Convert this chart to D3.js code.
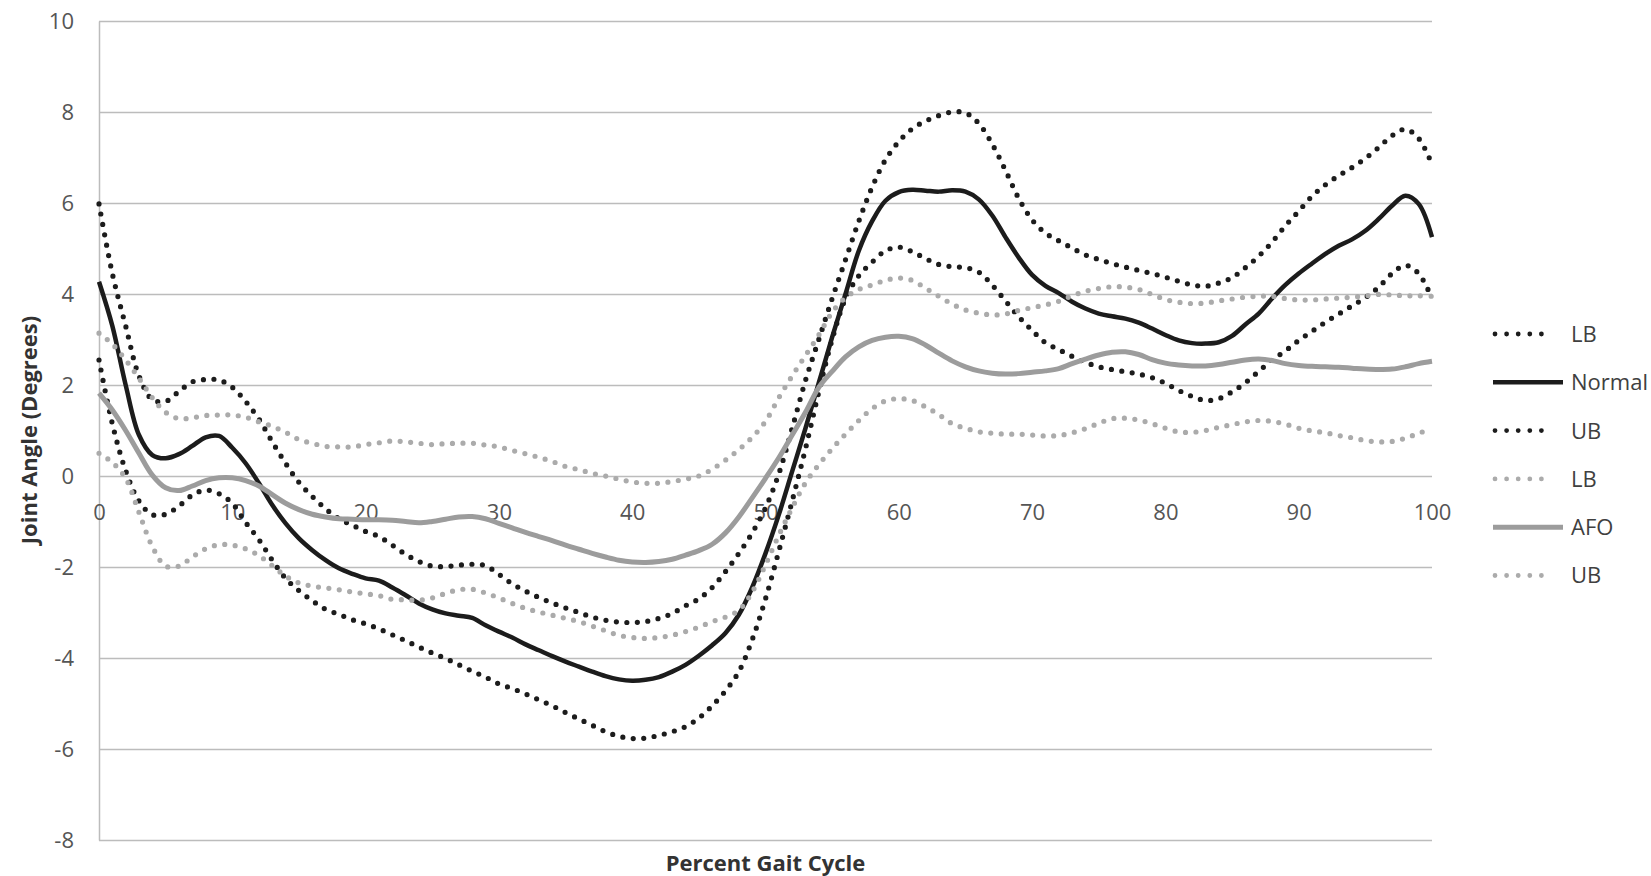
<!DOCTYPE html>
<html>
<head>
<meta charset="utf-8">
<script src="https://cdn.jsdelivr.net/npm/d3@7"></script>
<style>
	body {
		margin: 0;
		background: #fff;
		font-family: 'Open Sans', 'DejaVu Sans', sans-serif;
	}
	.grid line,
	.y.axis .domain {
		stroke: #bcbcbc;
		stroke-width: 1.5;
	}
	.axis text {
		fill: #555;
		font-size: 22px;
		font-family: 'Open Sans', sans-serif;
	}
	.axis-title {
		fill: #333;
		font-size: 22px;
		font-weight: bold;
	}
	.line {
		fill: none;
	}
	.normal { stroke: #1c1c1c; stroke-width: 4.5; }
	.afo { stroke: #9c9c9c; stroke-width: 5; }
	.band-dark,
	.band-light {
		stroke-width: 5.2;
		stroke-linecap: round;
		stroke-dasharray: 0 10.5;
	}
	.band-dark { stroke: #1c1c1c; }
	.band-light { stroke: #ababab; }
	.legend .band-dark,
	.legend .band-light { stroke-width: 4.8; stroke-dasharray: 0 11.6; }
	.legend text {
		fill: #404040;
		font-size: 22px;
	}
</style>
</head>
<body>
<div id="graphic"></div>
<script>
// Percent gait cycle (category axis)
var GAIT_PCT = [
	0, 1, 2, 3, 4, 5, 6, 7, 8, 9, 10, 11, 12, 13, 14, 15, 16, 17, 18, 19, 20,
	21, 22, 23, 24, 25, 26, 27, 28, 29, 30, 31, 32, 33, 34, 35, 36, 37, 38, 39, 40,
	41, 42, 43, 44, 45, 46, 47, 48, 49, 50, 51, 52, 53, 54, 55, 56, 57, 58, 59, 60,
	61, 62, 63, 64, 65, 66, 67, 68, 69, 70, 71, 72, 73, 74, 75, 76, 77, 78, 79, 80,
	81, 82, 83, 84, 85, 86, 87, 88, 89, 90, 91, 92, 93, 94, 95, 96, 97, 98, 99, 100
];

// Joint angle (degrees)
var LB_NORMAL = [
	2.55, 1.15, 0.12, -0.55, -0.85, -0.84, -0.66, -0.42, -0.31, -0.39, -0.6,
	-1.02, -1.4, -1.85, -2.25, -2.52, -2.74, -2.93, -3.04, -3.16, -3.25,
	-3.36, -3.49, -3.62, -3.76, -3.89, -4.01, -4.15, -4.29, -4.42, -4.57,
	-4.67, -4.79, -4.92, -5.05, -5.2, -5.34, -5.48, -5.62, -5.72, -5.77,
	-5.76, -5.7, -5.62, -5.51, -5.32, -5.05, -4.72, -4.3, -3.6, -2.7,
	-1.65, -0.55, 0.6, 1.85, 3.0, 3.9, 4.4, 4.7, 4.95, 5.03,
	4.93, 4.78, 4.65, 4.6, 4.58, 4.48, 4.2, 3.85, 3.5, 3.2,
	2.93, 2.78, 2.63, 2.5, 2.4, 2.34, 2.29, 2.24, 2.16, 2.04,
	1.88, 1.75, 1.66, 1.7, 1.85, 2.05, 2.3, 2.55, 2.75, 2.98,
	3.18, 3.38, 3.56, 3.74, 3.92, 4.15, 4.45, 4.63, 4.45, 3.9
];

var NORMAL = [
	4.27, 3.3, 2.0, 0.9, 0.46, 0.39, 0.48, 0.66, 0.85, 0.88, 0.62,
	0.28, -0.16, -0.64, -1.04, -1.37, -1.63, -1.85, -2.03, -2.15, -2.25,
	-2.3, -2.45, -2.62, -2.8, -2.93, -3.02, -3.07, -3.12, -3.28, -3.42,
	-3.55, -3.7, -3.83, -3.96, -4.08, -4.19, -4.3, -4.4, -4.47, -4.5,
	-4.48, -4.42, -4.3, -4.15, -3.95, -3.72, -3.45, -3.05, -2.45, -1.7,
	-0.85, 0.1, 1.05, 2.05, 3.05, 4.0, 4.95, 5.6, 6.05, 6.24,
	6.29, 6.27, 6.25, 6.28, 6.25, 6.08, 5.73, 5.25, 4.8, 4.42,
	4.18, 4.02, 3.83, 3.68, 3.57, 3.51, 3.46, 3.37, 3.24, 3.1,
	2.98, 2.92, 2.91, 2.94, 3.08, 3.33, 3.57, 3.9, 4.2, 4.45,
	4.67, 4.88, 5.06, 5.2, 5.39, 5.65, 5.94, 6.16, 5.98, 5.25
];

var UB_NORMAL = [
	5.98, 4.45, 3.3, 2.2, 1.68, 1.64, 1.86, 2.07, 2.12, 2.11, 1.95,
	1.64, 1.25, 0.75, 0.28, -0.14, -0.45, -0.72, -0.94, -1.08, -1.22,
	-1.33, -1.52, -1.72, -1.88, -1.98, -1.99, -1.96, -1.94, -1.97, -2.16,
	-2.37, -2.53, -2.67, -2.79, -2.9, -3.0, -3.1, -3.17, -3.21, -3.22,
	-3.2, -3.13, -3.02, -2.85, -2.7, -2.45, -2.1, -1.7, -1.25, -0.7,
	0.05, 1.05, 2.1, 3.0, 3.9, 4.75, 5.6, 6.35, 6.95, 7.35,
	7.63, 7.8, 7.92, 8.0, 7.98, 7.75, 7.3, 6.72, 6.1, 5.63,
	5.34, 5.17, 5.01, 4.86, 4.76, 4.67, 4.59, 4.52, 4.45, 4.37,
	4.28, 4.2, 4.17, 4.24, 4.36, 4.58, 4.83, 5.14, 5.5, 5.82,
	6.15, 6.4, 6.6, 6.78, 6.98, 7.22, 7.48, 7.62, 7.42, 6.85
];

var LB_AFO = [
	0.5, 0.3, -0.05, -0.8, -1.55, -1.98, -1.98, -1.78, -1.6, -1.51, -1.52,
	-1.6, -1.75, -1.97, -2.2, -2.35, -2.42, -2.46, -2.5, -2.55, -2.59,
	-2.63, -2.71, -2.72, -2.73, -2.68, -2.58, -2.5, -2.49, -2.57, -2.68,
	-2.8, -2.91, -2.99, -3.06, -3.13, -3.2, -3.3, -3.4, -3.5, -3.55,
	-3.57, -3.55, -3.5, -3.42, -3.32, -3.2, -3.1, -2.95, -2.55, -1.95,
	-1.3, -0.7, -0.15, 0.25, 0.6, 0.92, 1.22, 1.48, 1.65, 1.7,
	1.66, 1.52, 1.35, 1.15, 1.05, 0.97, 0.94, 0.92, 0.92, 0.9,
	0.88, 0.89, 0.95, 1.04, 1.16, 1.26, 1.27, 1.23, 1.15, 1.05,
	0.97, 0.96, 1.0, 1.07, 1.13, 1.19, 1.22, 1.2, 1.14, 1.05,
	0.99, 0.95, 0.89, 0.84, 0.78, 0.75, 0.76, 0.83, 0.94, 1.04
];

var AFO = [
	1.82, 1.45, 1.0, 0.5, 0.02, -0.26, -0.32, -0.22, -0.1, -0.04, -0.04,
	-0.1, -0.22, -0.41, -0.6, -0.74, -0.84, -0.9, -0.94, -0.95, -0.96,
	-0.96, -0.97, -1.0, -1.03, -1.0, -0.95, -0.9, -0.89, -0.94, -1.04,
	-1.14, -1.24, -1.33, -1.42, -1.52, -1.61, -1.7, -1.78, -1.85, -1.89,
	-1.9, -1.88, -1.83, -1.74, -1.64, -1.5, -1.25, -0.9, -0.48, -0.05,
	0.4, 0.9, 1.4, 1.95, 2.3, 2.62, 2.84, 2.98, 3.05, 3.07,
	3.02, 2.88, 2.7, 2.53, 2.4, 2.31, 2.26, 2.24, 2.25, 2.28,
	2.31, 2.36, 2.47, 2.57, 2.66, 2.72, 2.73, 2.67, 2.56, 2.48,
	2.44, 2.42, 2.42, 2.45, 2.5, 2.55, 2.57, 2.54, 2.47, 2.43,
	2.41, 2.4, 2.39, 2.37, 2.35, 2.34, 2.35, 2.4, 2.47, 2.52
];

var UB_AFO = [
	3.14, 2.9, 2.55, 2.15, 1.72, 1.4, 1.26, 1.28, 1.33, 1.34, 1.34,
	1.29, 1.19, 1.09, 0.96, 0.8, 0.72, 0.65, 0.64, 0.64, 0.69,
	0.73, 0.77, 0.75, 0.72, 0.69, 0.71, 0.72, 0.72, 0.68, 0.64,
	0.56, 0.49, 0.41, 0.32, 0.21, 0.14, 0.06, 0.0, -0.07, -0.13,
	-0.16, -0.16, -0.12, -0.07, 0.0, 0.15, 0.35, 0.58, 0.85, 1.2,
	1.72, 2.2, 2.65, 3.1, 3.6, 3.92, 4.1, 4.2, 4.3, 4.35,
	4.3, 4.13, 3.95, 3.78, 3.65, 3.58, 3.54, 3.56, 3.64, 3.7,
	3.76, 3.84, 3.96, 4.06, 4.12, 4.16, 4.15, 4.1, 3.99, 3.88,
	3.82, 3.79, 3.8, 3.85, 3.89, 3.93, 3.95, 3.95, 3.9, 3.87,
	3.87, 3.89, 3.91, 3.93, 3.96, 3.99, 3.98, 3.96, 3.96, 3.95
];

var SERIES_NAMES = ['LB', 'Normal', 'UB', 'LB', 'AFO', 'UB'];
var SERIES_CLASSES = ['band-dark', 'normal', 'band-dark', 'band-light', 'afo', 'band-light'];
var SERIES_VALUES = [LB_NORMAL, NORMAL, UB_NORMAL, LB_AFO, AFO, UB_AFO];

var X_TICKS = [0, 10, 20, 30, 40, 50, 60, 70, 80, 90, 100];
var Y_TICKS = [-8, -6, -4, -2, 0, 2, 4, 6, 8, 10];

var WIDTH = 1651;
var HEIGHT = 876;

/*
 * Render the graphic.
 */
function renderGraphic(config) {
	var margins = {
		top: 21,
		right: 219,
		bottom: 36,
		left: 99
	};

	var chartWidth = config['width'] - (margins['left'] + margins['right']);
	var chartHeight = config['height'] - (margins['top'] + margins['bottom']);

	var containerElement = d3.select(config['container']);
	containerElement.html('');

	var svg = containerElement.append('svg')
		.attr('width', config['width'])
		.attr('height', config['height']);

	var chartElement = svg.append('g')
		.attr('transform', 'translate(' + margins['left'] + ',' + margins['top'] + ')');

	// Scales
	var xScale = d3.scaleLinear()
		.domain([0, 100])
		.range([0, chartWidth]);

	var yScale = d3.scaleLinear()
		.domain([-8, 10])
		.range([chartHeight, 0]);

	// Y axis with horizontal grid
	var yAxis = d3.axisLeft()
		.scale(yScale)
		.tickValues(Y_TICKS)
		.tickSize(-chartWidth)
		.tickSizeOuter(0)
		.tickPadding(25)
		.tickFormat(function(d) {
			return d.toFixed(0);
		});

	var yAxisElement = chartElement.append('g')
		.attr('class', 'y axis grid')
		.call(yAxis);

	yAxisElement.selectAll('text')
		.attr('dy', '0.36em');

	// X axis labels sit on the zero line
	var xAxis = d3.axisBottom()
		.scale(xScale)
		.tickValues(X_TICKS)
		.tickSize(0)
		.tickPadding(28)
		.tickFormat(function(d) {
			return d.toFixed(0);
		});

	var xAxisElement = chartElement.append('g')
		.attr('class', 'x axis')
		.attr('transform', 'translate(0,' + yScale(0) + ')')
		.call(xAxis);

	xAxisElement.select('.domain').remove();

	// Series
	var line = d3.line()
		.curve(d3.curveCatmullRom.alpha(0.5))
		.x(function(d) {
			return xScale(d[0]);
		})
		.y(function(d) {
			return yScale(d[1]);
		});

	var seriesData = SERIES_VALUES.map(function(values, i) {
		return {
			name: SERIES_NAMES[i],
			cls: SERIES_CLASSES[i],
			points: values.map(function(v, j) {
				return [GAIT_PCT[j], v];
			})
		};
	});

	chartElement.append('g')
		.attr('class', 'lines')
		.selectAll('path')
		.data(seriesData)
		.enter()
		.append('path')
			.attr('class', function(d) {
				return 'line ' + d['cls'];
			})
			.attr('d', function(d) {
				return line(d['points']);
			});

	// Axis titles
	svg.append('text')
		.attr('class', 'axis-title')
		.attr('x', margins['left'] + chartWidth / 2)
		.attr('y', 871)
		.attr('text-anchor', 'middle')
		.text('Percent Gait Cycle');

	svg.append('text')
		.attr('class', 'axis-title')
		.attr('transform', 'translate(37,430) rotate(-90)')
		.attr('text-anchor', 'middle')
		.text('Joint Angle (Degrees)');

	// Legend
	var legend = svg.append('g')
		.attr('class', 'legend')
		.attr('transform', 'translate(1493,334)');

	var legendItems = legend.selectAll('g')
		.data(seriesData)
		.enter()
		.append('g')
			.attr('transform', function(d, i) {
				return 'translate(0,' + (i * 48.3) + ')';
			});

	legendItems.append('path')
		.attr('class', function(d) {
			return 'line ' + d['cls'];
		})
		.attr('d', function(d) {
			return d['cls'].indexOf('band') === 0 ? 'M2,0H60' : 'M0,0H70';
		});

	legendItems.append('text')
		.attr('x', 78)
		.attr('dy', '0.36em')
		.text(function(d) {
			return d['name'];
		});
}

document.addEventListener('DOMContentLoaded', function() {
	renderGraphic({
		container: '#graphic',
		width: WIDTH,
		height: HEIGHT
	});
});
</script>
</body>
</html>
